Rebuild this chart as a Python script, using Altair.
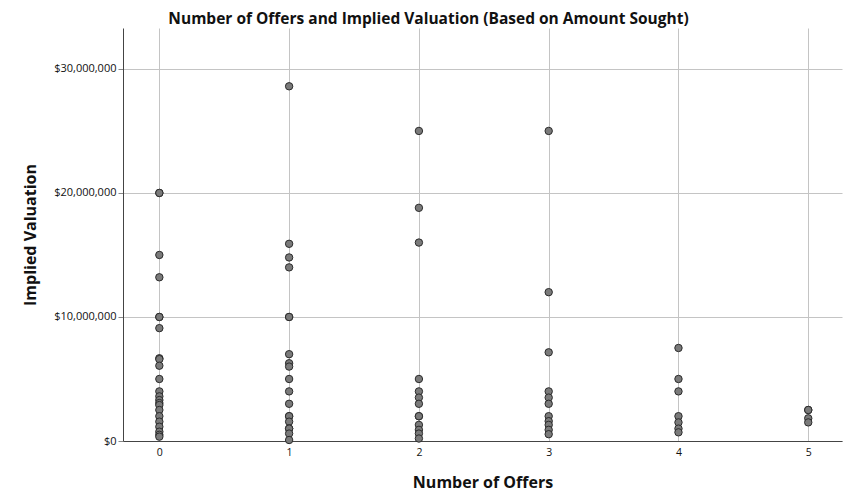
import altair as alt
import pandas as pd

offers_0 = [20.0, 20.0, 15.0, 13.2, 10.0, 10.0, 9.1, 6.67, 6.6, 6.07, 5.0, 4.0, 3.6, 3.3, 3.06, 2.9,
            2.5, 2.0, 1.56, 1.15, 0.75, 0.5, 0.35]
offers_1 = [28.6, 15.9, 14.8, 14.0, 10.0, 10.0, 7.0, 6.27, 6.0, 5.0, 4.0, 3.0, 2.0, 2.0, 1.56, 1.0,
            1.0, 0.6, 0.08]
offers_2 = [25.0, 18.8, 16.0, 5.0, 4.0, 3.5, 3.0, 2.0, 2.0, 1.3, 0.9, 0.6, 0.2]
offers_3 = [25.0, 12.0, 7.15, 4.0, 3.5, 3.0, 2.0, 1.6, 1.3, 0.9, 0.55]
offers_4 = [7.5, 5.0, 4.0, 2.0, 1.5, 1.0, 0.7]
offers_5 = [2.5, 2.5, 1.83, 1.5]

groups = [offers_0, offers_1, offers_2, offers_3, offers_4, offers_5]
rows = []
for n, vals in enumerate(groups):
    for v in vals:
        rows.append({"offers": n, "valuation": v * 1_000_000})
df = pd.DataFrame(rows)

FONT = "Open Sans"

chart = alt.Chart(df).mark_point(
    filled=True, shape="circle", size=55, fill="#7a7a7a", stroke="#2b2b2b",
    strokeWidth=1, opacity=1
).encode(
    x=alt.X("offers:Q", title="Number of Offers",
            scale=alt.Scale(domain=[-0.28, 5.26], nice=False, zero=False),
            axis=alt.Axis(values=[0, 1, 2, 3, 4, 5], format="d", ticks=False,
                          labelFontSize=10.5, labelPadding=6, titlePadding=17)),
    y=alt.Y("valuation:Q", title="Implied Valuation",
            scale=alt.Scale(domain=[0, 33300000], nice=False),
            axis=alt.Axis(values=[0, 10000000, 20000000, 30000000], format="$,.0f",
                          ticks=True, tickSize=5, tickColor="#888", labelPadding=2,
                          labelFontSize=11, titlePadding=15)),
).properties(
    width=719, height=413,
    autosize=alt.AutoSizeParams(type="none"),
    padding={"left": 115, "top": 20, "right": 4, "bottom": 60},
    title=alt.TitleParams("Number of Offers and Implied Valuation (Based on Amount Sought)",
                          anchor="middle", dx=-54, offset=1, fontSize=15.5, font=FONT,
                          fontWeight="bold", color="#111"),
).configure_axis(
    grid=True, gridColor="#c4c4c4", gridWidth=1,
    domainColor="#444", domainWidth=1,
    labelFont=FONT, labelColor="#111",
    titleFont=FONT, titleFontSize=16, titleFontWeight="bold", titleColor="#111",
).configure_view(stroke=None)

chart.save("out.html", embed_options={"renderer": "svg", "actions": False})
